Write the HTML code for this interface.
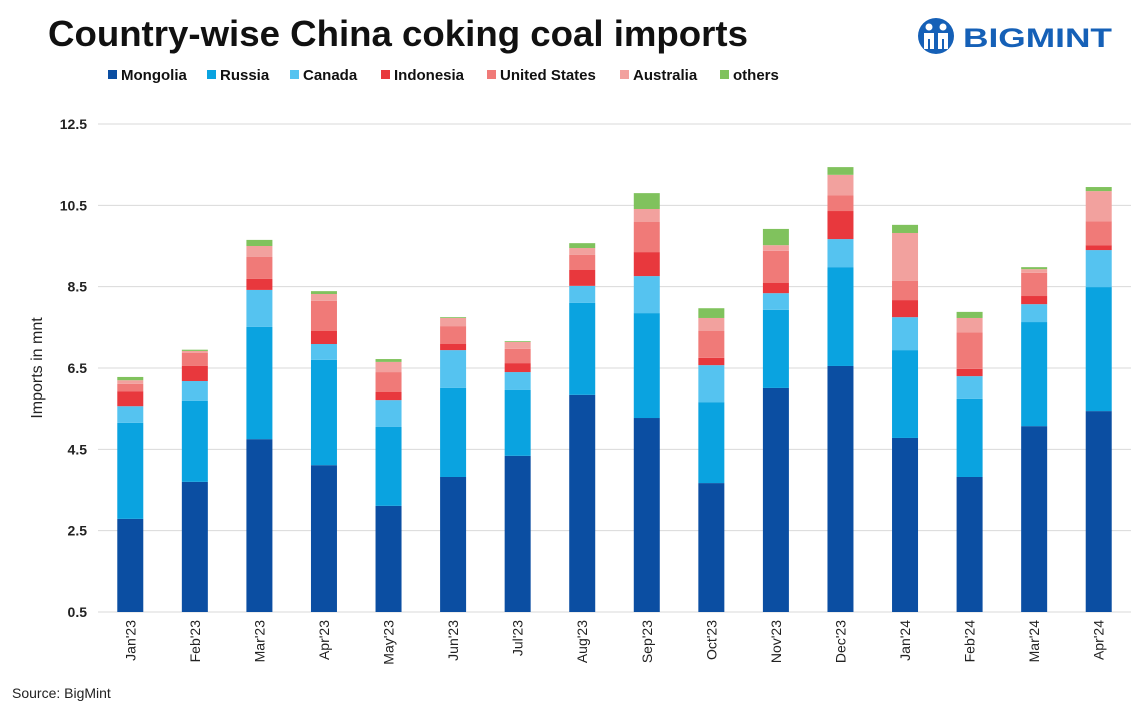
<!DOCTYPE html>
<html><head><meta charset="utf-8"><style>
body{margin:0;background:#fff;font-family:"Liberation Sans",sans-serif}
svg{display:block}
</style></head><body>
<svg width="1148" height="711" viewBox="0 0 1148 711">
<text x="48" y="46" font-size="36" font-weight="bold" fill="#111" textLength="700" lengthAdjust="spacingAndGlyphs">Country-wise China coking coal imports</text>
<g>
<circle cx="936" cy="36" r="18" fill="#1560b7"/>
<circle cx="929" cy="27" r="3.5" fill="#fff"/><circle cx="943" cy="27" r="3.5" fill="#fff"/>
<path d="M924 33 h10 v16 h-4 v-10 h-2 v10 h-4z M938 33 h10 v16 h-4 v-10 h-2 v10 h-4z" fill="#fff"/>
<text x="963" y="47" font-size="27" font-weight="bold" fill="#1560b7" textLength="149" lengthAdjust="spacingAndGlyphs">BIGMINT</text>
</g>
<g id="legend"></g>
<g id="grid"></g>
<g id="bars"></g>
<g id="xlabels"></g>
<text transform="translate(42,368) rotate(-90)" text-anchor="middle" font-size="16" fill="#222">Imports in mnt</text>
<text x="12" y="698" font-size="14" fill="#222">Source: BigMint</text>
</svg>
<script>
const categories=["Jan'23","Feb'23","Mar'23","Apr'23","May'23","Jun'23","Jul'23","Aug'23","Sep'23","Oct'23","Nov'23","Dec'23","Jan'24","Feb'24","Mar'24","Apr'24"];
const seriesNames=["Mongolia","Russia","Canada","Indonesia","United States","Australia","others"];
const seriesColors=["#0b4ea2","#0aa3e0","#55c3f0","#e8383d","#f07a78","#f2a19e","#80c25d"];
const mongolia=[2.79,3.70,4.75,4.11,3.11,3.82,4.34,5.84,5.27,3.67,6.01,6.55,4.78,3.82,5.07,5.44];
const russia=[2.36,1.99,2.76,2.59,1.94,2.19,1.62,2.26,2.58,1.99,1.92,2.43,2.16,1.92,2.56,3.05];
const canada=[0.41,0.49,0.91,0.39,0.66,0.93,0.44,0.42,0.91,0.91,0.41,0.69,0.81,0.56,0.44,0.91];
const indonesia=[0.37,0.37,0.27,0.32,0.20,0.15,0.22,0.39,0.59,0.18,0.25,0.69,0.42,0.18,0.20,0.12];
const unitedStates=[0.18,0.32,0.54,0.74,0.49,0.44,0.35,0.37,0.74,0.66,0.79,0.39,0.47,0.90,0.57,0.59];
const australia=[0.09,0.05,0.27,0.17,0.25,0.20,0.17,0.17,0.32,0.32,0.14,0.50,1.18,0.35,0.09,0.74];
const others=[0.08,0.03,0.15,0.07,0.07,0.02,0.02,0.12,0.39,0.24,0.40,0.19,0.20,0.15,0.05,0.10];
const yTicks=[0.5,2.5,4.5,6.5,8.5,10.5,12.5];
const yTickLabels=["0.5","2.5","4.5","6.5","8.5","10.5","12.5"];
const series=[mongolia,russia,canada,indonesia,unitedStates,australia,others];
const NS="http://www.w3.org/2000/svg";
const plotL=98,plotR=1131,yMin=0.5,yMax=12.5,pxTop=124,pxBot=612;
const y=v=>pxBot-(v-yMin)/(yMax-yMin)*(pxBot-pxTop);
const step=(plotR-plotL)/categories.length;
const xc=i=>plotL+step*(i+0.5);
const bw=26;
function mk(t,a,p){const e=document.createElementNS(NS,t);for(const k in a)e.setAttribute(k,a[k]);p.appendChild(e);return e;}
const grid=document.getElementById('grid');
yTicks.forEach((t,i)=>{
 const l=mk('line',{x1:plotL,x2:plotR,y1:y(t),y2:y(t),stroke:'#d9d9d9','stroke-width':1},grid);
 
 
 const tx=mk('text',{x:87,y:y(t)+5,'text-anchor':'end','font-size':14,'font-weight':'bold',fill:'#222'},grid);
 tx.textContent=yTickLabels[i];
 
 
});
const bars=document.getElementById('bars');
categories.forEach((c,i)=>{
 let cum=0;
 series.forEach((s,k)=>{
  const v0=Math.max(cum,yMin);cum+=s[i];const v1=cum;
  if(v1<=yMin)return;
  const r=mk('rect',{x:xc(i)-bw/2,y:y(v1),width:bw,height:y(v0)-y(v1),fill:seriesColors[k]},bars);
  
  
 });
});
const xl=document.getElementById('xlabels');
categories.forEach((c,i)=>{
 const t=mk('text',{transform:`translate(${xc(i)+5},620) rotate(-90)`,'text-anchor':'end','font-size':14,fill:'#222'},xl);
 t.textContent=c;
 
 
});
const lg=document.getElementById('legend');
const lx=[108,207,290,381,487,620,720];
seriesNames.forEach((n,k)=>{
 const r=mk('rect',{x:lx[k],y:70,width:9,height:9,fill:seriesColors[k]},lg);
 
 
 const t=mk('text',{x:lx[k]+13,y:80,'font-size':15,'font-weight':'bold',fill:'#111'},lg);
 t.textContent=n;
 
 
});
</script>
</body></html>
